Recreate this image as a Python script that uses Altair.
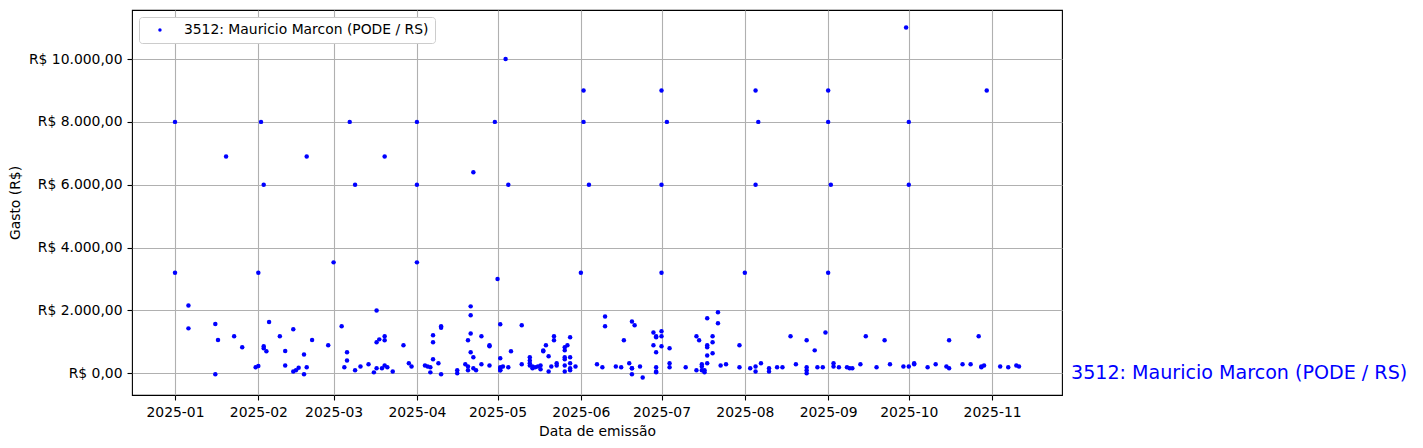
import altair as alt
import pandas as pd

SERIES = "3512: Mauricio Marcon (PODE / RS)"

dates = [
    "2025-01-01", "2025-01-01", "2025-01-06", "2025-01-06", "2025-01-16", "2025-01-16",
    "2025-01-17", "2025-01-20", "2025-01-23", "2025-01-26", "2025-01-31", "2025-02-01",
    "2025-02-01", "2025-02-02", "2025-02-03", "2025-02-03", "2025-02-03", "2025-02-04",
    "2025-02-05", "2025-02-09", "2025-02-11", "2025-02-11", "2025-02-14", "2025-02-14",
    "2025-02-15", "2025-02-16", "2025-02-18", "2025-02-18", "2025-02-19", "2025-02-19",
    "2025-02-21", "2025-02-27", "2025-03-01", "2025-03-04", "2025-03-05", "2025-03-06",
    "2025-03-06", "2025-03-07", "2025-03-09", "2025-03-09", "2025-03-11", "2025-03-14",
    "2025-03-16", "2025-03-17", "2025-03-17", "2025-03-17", "2025-03-18", "2025-03-19",
    "2025-03-20", "2025-03-20", "2025-03-20", "2025-03-20", "2025-03-21", "2025-03-23",
    "2025-03-27", "2025-03-29", "2025-03-30", "2025-04-01", "2025-04-01", "2025-04-01",
    "2025-04-04", "2025-04-05", "2025-04-06", "2025-04-06", "2025-04-07", "2025-04-07",
    "2025-04-07", "2025-04-09", "2025-04-10", "2025-04-10", "2025-04-10", "2025-04-16",
    "2025-04-16", "2025-04-19", "2025-04-20", "2025-04-20", "2025-04-20", "2025-04-21",
    "2025-04-21", "2025-04-21", "2025-04-21", "2025-04-22", "2025-04-22", "2025-04-22",
    "2025-04-23", "2025-04-25", "2025-04-25", "2025-04-28", "2025-04-28", "2025-04-28",
    "2025-04-30", "2025-05-01", "2025-05-02", "2025-05-02", "2025-05-02", "2025-05-02",
    "2025-05-02", "2025-05-02", "2025-05-03", "2025-05-04", "2025-05-05", "2025-05-05",
    "2025-05-06", "2025-05-10", "2025-05-10", "2025-05-13", "2025-05-13", "2025-05-13",
    "2025-05-13", "2025-05-14", "2025-05-14", "2025-05-15", "2025-05-16", "2025-05-17",
    "2025-05-17", "2025-05-18", "2025-05-18", "2025-05-19", "2025-05-20", "2025-05-20",
    "2025-05-21", "2025-05-22", "2025-05-22", "2025-05-23", "2025-05-23", "2025-05-26",
    "2025-05-26", "2025-05-26", "2025-05-26", "2025-05-26", "2025-05-26", "2025-05-27",
    "2025-05-28", "2025-05-28", "2025-05-28", "2025-05-28", "2025-05-28", "2025-05-30",
    "2025-06-01", "2025-06-02", "2025-06-02", "2025-06-04", "2025-06-07", "2025-06-09",
    "2025-06-10", "2025-06-10", "2025-06-14", "2025-06-16", "2025-06-17", "2025-06-19",
    "2025-06-20", "2025-06-20", "2025-06-20", "2025-06-20", "2025-06-21", "2025-06-23",
    "2025-06-24", "2025-06-28", "2025-06-28", "2025-06-29", "2025-06-29", "2025-06-29",
    "2025-06-29", "2025-06-29", "2025-06-29", "2025-07-01", "2025-07-01", "2025-07-01",
    "2025-07-01", "2025-07-01", "2025-07-01", "2025-07-03", "2025-07-04", "2025-07-04",
    "2025-07-04", "2025-07-10", "2025-07-14", "2025-07-14", "2025-07-15", "2025-07-16",
    "2025-07-16", "2025-07-16", "2025-07-17", "2025-07-17", "2025-07-18", "2025-07-18",
    "2025-07-18", "2025-07-18", "2025-07-18", "2025-07-20", "2025-07-20", "2025-07-20",
    "2025-07-22", "2025-07-22", "2025-07-23", "2025-07-25", "2025-07-30", "2025-07-30",
    "2025-08-01", "2025-08-03", "2025-08-05", "2025-08-05", "2025-08-05", "2025-08-05",
    "2025-08-06", "2025-08-07", "2025-08-10", "2025-08-10", "2025-08-13", "2025-08-15",
    "2025-08-18", "2025-08-20", "2025-08-24", "2025-08-24", "2025-08-24", "2025-08-24",
    "2025-08-27", "2025-08-28", "2025-08-30", "2025-08-31", "2025-09-01", "2025-09-01",
    "2025-09-01", "2025-09-02", "2025-09-03", "2025-09-03", "2025-09-05", "2025-09-08",
    "2025-09-09", "2025-09-10", "2025-09-13", "2025-09-15", "2025-09-19", "2025-09-22",
    "2025-09-24", "2025-09-29", "2025-09-30", "2025-10-01", "2025-10-01", "2025-10-01",
    "2025-10-03", "2025-10-03", "2025-10-08", "2025-10-11", "2025-10-15", "2025-10-16",
    "2025-10-16", "2025-10-21", "2025-10-24", "2025-10-27", "2025-10-28", "2025-10-28",
    "2025-10-29", "2025-10-30", "2025-11-04", "2025-11-07", "2025-11-10", "2025-11-11",
]

values = [
    8000, 3200, 2160, 1430, 1570, -30,
    1060, 6900, 1180, 830, 190, 230,
    3200, 8000, 860, 800, 6000, 700,
    1630, 1180, 710, 250, 1400, 60,
    95, 180, 600, -30, 190, 6900,
    1060, 890, 3530, 1500, 190, 670,
    410, 8000, 6000, 95, 220, 290,
    30, 160, 2000, 990, 1080, 160,
    6900, 250, 1180, 1050, 190, 60,
    890, 320, 220, 3530, 8000, 6000,
    250, 220, 190, 30, 1210, 990,
    450, 320, 1500, 1450, -30, 95,
    0, 290, 95, 1050, 220, 2130,
    1850, 1270, 670, 510, 6400, 160,
    95, 1180, 290, 860, 250, 890,
    8000, 3000, 1560, 160, 190, 480,
    95, 95, 220, 10000, 190, 6000,
    700, 1530, 290, 510, 410, 320,
    250, 160, 220, 190, 220, 250,
    130, 730, 700, 890, 540, 60,
    220, 1180, 1050, 320, 250, 830,
    730, 510, 450, 250, 60, 890,
    1150, 510, 320, 160, 95, 220,
    3200, 9000, 8000, 6000, 290, 190,
    1810, 1500, 220, 190, 1050, 320,
    160, 160, -30, 1650, 1530, 220,
    -130, 1300, 890, 1150, 1180, 670,
    190, 60, 30, 9000, 6000, 3200,
    1340, 1180, 860, 8000, 800, 320,
    190, 190, 1180, 95, 1050, 220,
    290, 95, 95, 30, 830, 890,
    1750, 570, 320, 1180, 990, 640,
    1940, 1590, 250, 290, 890, 190,
    3200, 160, 6000, 220, 9000, 60,
    8000, 320, 160, 60, 190, 190,
    1180, 290, 190, 95, 0, 1050,
    730, 190, 190, 1300, 9000, 3200,
    8000, 6000, 220, 320, 190, 190,
    160, 160, 290, 1180, 190, 1050,
    290, 220, 11000, 220, 6000, 8000,
    290, 320, 190, 290, 220, 160,
    1050, 290, 290, 1180, 220, 190,
    250, 9000, 220, 190, 250, 220,
]

y_ticks = [0, 2000, 4000, 6000, 8000, 10000]
x_ticks = ["2025-01-01", "2025-02-01", "2025-03-01", "2025-04-01", "2025-05-01",
           "2025-06-01", "2025-07-01", "2025-08-01", "2025-09-01", "2025-10-01",
           "2025-11-01"]
x_domain = ["2024-12-16", "2025-11-27"]
y_domain = [-690, 11560]

df = pd.DataFrame({"data": dates, "gasto": values, "serie": SERIES})
label_df = pd.DataFrame({"gasto": [0], "txt": [SERIES]})

FONT = "DejaVu Sans"
GRID = "#b0b0b0"


def dt(s):
    y, m, d = (int(p) for p in s.split("-"))
    return alt.DateTime(year=y, month=m, date=d, utc=True)


x_enc = alt.X(
    "data:T",
    scale=alt.Scale(type="utc", domain=[dt(s) for s in x_domain], nice=False),
    axis=alt.Axis(
        title="Data de emissão",
        values=[dt(s) for s in x_ticks],
        labelExpr="utcFormat(datum.value, '%Y-%m')",
        grid=True,
    ),
)

y_enc = alt.Y(
    "gasto:Q",
    scale=alt.Scale(domain=y_domain, nice=False, zero=False),
    axis=alt.Axis(
        title="Gasto (R$)",
        values=y_ticks,
        labelExpr="'R$ ' + replace(replace(replace(format(datum.value, ',.2f'), '.', '#'), regexp(',', 'g'), '.'), '#', ',')",
        grid=True,
    ),
)

points = alt.Chart(df).mark_circle(size=20, opacity=1).encode(
    x=x_enc,
    y=y_enc,
    color=alt.Color(
        "serie:N",
        scale=alt.Scale(domain=[SERIES], range=["blue"]),
        legend=alt.Legend(
            title=None,
            orient="top-left",
            offset=7,
            fillColor="white",
            strokeColor="#cccccc",
            cornerRadius=3,
            padding=6,
            symbolType="circle",
            symbolSize=12,
            symbolOffset=8,
            labelOffset=17,
            labelLimit=500,
            labelFontSize=13.9,
            labelFont=FONT,
            labelColor="black",
        ),
    ),
)

label = alt.Chart(label_df).mark_text(
    align="left", baseline="middle", fontSize=19.1, font=FONT, color="blue", clip=False
).encode(
    x=alt.value(939),
    y=alt.Y("gasto:Q"),
    text="txt:N",
)

chart = (
    alt.layer(points, label)
    .properties(
        width=930,
        height=385,
        autosize=alt.AutoSizeParams(type="none"),
        padding={"left": 124, "top": 2, "right": 353, "bottom": 45},
    )
    .configure_view(stroke="black", strokeWidth=1.1)
    .configure_axis(
        zindex=1,
        gridColor=GRID,
        gridWidth=1.1,
        gridOpacity=1,
        domain=False,
        tickColor="black",
        tickWidth=1.1,
        tickSize=5,
        labelPadding=5,
        labelFont=FONT,
        labelFontSize=13.9,
        labelColor="black",
        titleFont=FONT,
        titleFontSize=13.9,
        titleFontWeight="normal",
        titleColor="black",
        titlePadding=6,
    )
)

chart.save("out.html", embed_options={"renderer": "svg", "actions": False})
